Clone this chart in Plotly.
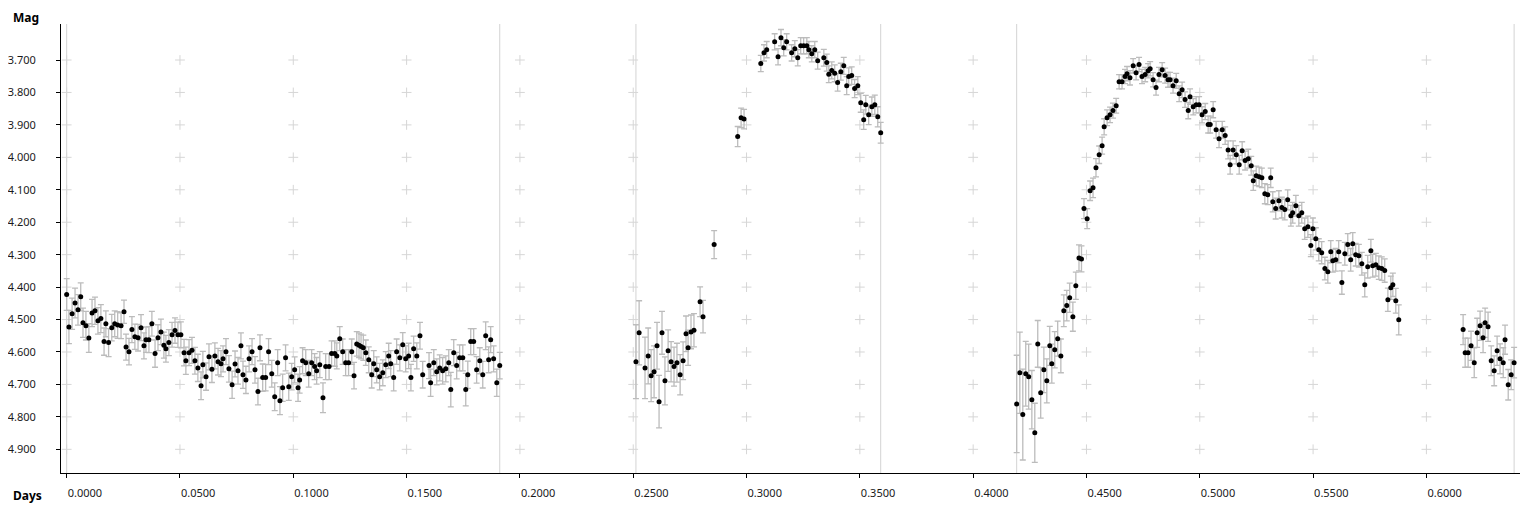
import plotly.graph_objects as go

# ---------------- data ----------------
# Session 1
s1_days = [0.0000, 0.0010, 0.0024, 0.0037, 0.0050, 0.0062, 0.0072, 0.0085, 0.0098, 0.0112,
           0.0125, 0.0138, 0.0151, 0.0165, 0.0173, 0.0185, 0.0199, 0.0212, 0.0225, 0.0240,
           0.0253, 0.0262, 0.0275, 0.0288, 0.0301, 0.0315, 0.0328, 0.0341, 0.0350, 0.0363,
           0.0376, 0.0390, 0.0403, 0.0416, 0.0429, 0.0438, 0.0451, 0.0465, 0.0478, 0.0491,
           0.0504, 0.0518, 0.0526, 0.0540, 0.0553, 0.0566, 0.0579, 0.0593, 0.0601, 0.0615,
           0.0628, 0.0641, 0.0654, 0.0668, 0.0681, 0.0690, 0.0703, 0.0716, 0.0730, 0.0743,
           0.0756, 0.0769, 0.0778, 0.0791, 0.0805, 0.0818, 0.0831, 0.0844, 0.0853, 0.0865,
           0.0878, 0.0891, 0.0905, 0.0918, 0.0931, 0.0941, 0.0953, 0.0966, 0.0980, 0.0993,
           0.1006, 0.1021, 0.1028, 0.1041, 0.1055, 0.1068, 0.1081, 0.1094, 0.1103, 0.1117,
           0.1131, 0.1143, 0.1158, 0.1169, 0.1183, 0.1192, 0.1205, 0.1218, 0.1231, 0.1244,
           0.1258, 0.1268, 0.1280, 0.1290, 0.1299, 0.1309, 0.1320, 0.1333, 0.1346, 0.1355,
           0.1368, 0.1381, 0.1395, 0.1408, 0.1421, 0.1430, 0.1443, 0.1456, 0.1470, 0.1483,
           0.1496, 0.1509, 0.1519, 0.1531, 0.1545, 0.1559, 0.1571, 0.1599, 0.1606, 0.1620,
           0.1633, 0.1646, 0.1659, 0.1673, 0.1686, 0.1695, 0.1708, 0.1721, 0.1734, 0.1748,
           0.1761, 0.1770, 0.1783, 0.1796, 0.1809, 0.1823, 0.1836, 0.1849, 0.1862, 0.1871,
           0.1884, 0.1898, 0.1911]
s1_mag = [4.423, 4.523, 4.482, 4.449, 4.470, 4.430, 4.510, 4.519, 4.557, 4.480,
          4.473, 4.504, 4.497, 4.568, 4.513, 4.571, 4.525, 4.513, 4.517, 4.519,
          4.476, 4.585, 4.599, 4.531, 4.553, 4.556, 4.525, 4.581, 4.562, 4.562,
          4.513, 4.605, 4.556, 4.538, 4.579, 4.590, 4.571, 4.547, 4.534, 4.547,
          4.547, 4.602, 4.627, 4.602, 4.595, 4.627, 4.649, 4.704, 4.639, 4.676,
          4.615, 4.653, 4.612, 4.630, 4.636, 4.621, 4.599, 4.652, 4.701, 4.637,
          4.658, 4.581, 4.670, 4.686, 4.621, 4.599, 4.655, 4.722, 4.587, 4.679,
          4.679, 4.599, 4.667, 4.738, 4.633, 4.750, 4.710, 4.618, 4.707, 4.676,
          4.655, 4.710, 4.686, 4.627, 4.633, 4.667, 4.633, 4.645, 4.658, 4.639,
          4.741, 4.645, 4.645, 4.605, 4.605, 4.612, 4.559, 4.599, 4.633, 4.633,
          4.599, 4.673, 4.575, 4.579, 4.583, 4.587, 4.602, 4.624, 4.670, 4.636,
          4.655, 4.676, 4.664, 4.639, 4.612, 4.636, 4.679, 4.599, 4.618, 4.578,
          4.621, 4.612, 4.679, 4.590, 4.612, 4.550, 4.670, 4.642, 4.695, 4.633,
          4.661, 4.649, 4.658, 4.652, 4.633, 4.716, 4.602, 4.642, 4.618, 4.618,
          4.716, 4.670, 4.568, 4.568, 4.655, 4.627, 4.670, 4.550, 4.624, 4.562,
          4.621, 4.695, 4.642]
s1_err = [0.049, 0.051, 0.048, 0.046, 0.047, 0.043, 0.045, 0.044, 0.044, 0.042,
          0.042, 0.041, 0.043, 0.042, 0.040, 0.043, 0.041, 0.040, 0.041, 0.040,
          0.036, 0.040, 0.041, 0.040, 0.039, 0.041, 0.040, 0.040, 0.039, 0.040,
          0.038, 0.042, 0.040, 0.039, 0.040, 0.041, 0.040, 0.038, 0.039, 0.039,
          0.040, 0.041, 0.042, 0.040, 0.040, 0.041, 0.042, 0.043, 0.041, 0.042,
          0.040, 0.041, 0.040, 0.041, 0.040, 0.040, 0.040, 0.041, 0.042, 0.040,
          0.041, 0.040, 0.042, 0.042, 0.040, 0.040, 0.041, 0.041, 0.040, 0.042,
          0.041, 0.040, 0.041, 0.043, 0.040, 0.043, 0.042, 0.040, 0.042, 0.041,
          0.040, 0.042, 0.041, 0.040, 0.040, 0.041, 0.040, 0.040, 0.041, 0.040,
          0.046, 0.040, 0.040, 0.039, 0.039, 0.040, 0.037, 0.039, 0.040, 0.040,
          0.039, 0.041, 0.038, 0.038, 0.038, 0.039, 0.039, 0.040, 0.041, 0.040,
          0.040, 0.041, 0.040, 0.040, 0.039, 0.040, 0.041, 0.039, 0.040, 0.038,
          0.040, 0.039, 0.041, 0.039, 0.040, 0.041, 0.041, 0.040, 0.042, 0.040,
          0.040, 0.040, 0.041, 0.040, 0.040, 0.053, 0.040, 0.041, 0.040, 0.040,
          0.050, 0.042, 0.040, 0.040, 0.041, 0.040, 0.041, 0.043, 0.040, 0.040,
          0.040, 0.042, 0.041]

# Session 2
s2_days = [0.2512, 0.2526, 0.2552, 0.2566, 0.2579, 0.2592, 0.2605, 0.2614, 0.2627, 0.2640,
           0.2654, 0.2667, 0.2680, 0.2693, 0.2707, 0.2720, 0.2733, 0.2742, 0.2755, 0.2768,
           0.2795, 0.2808, 0.2857, 0.2961, 0.2976, 0.2989, 0.3063, 0.3077, 0.3089, 0.3124,
           0.3139, 0.3152, 0.3164, 0.3177, 0.3199, 0.3213, 0.3226, 0.3239, 0.3252, 0.3266,
           0.3275, 0.3288, 0.3301, 0.3314, 0.3341, 0.3354, 0.3363, 0.3376, 0.3389, 0.3402,
           0.3416, 0.3429, 0.3442, 0.3451, 0.3464, 0.3477, 0.3491, 0.3504, 0.3517, 0.3526,
           0.3539, 0.3553, 0.3566, 0.3579, 0.3592]
s2_mag = [4.630, 4.541, 4.649, 4.612, 4.673, 4.661, 4.581, 4.753, 4.541, 4.689,
          4.596, 4.630, 4.645, 4.633, 4.670, 4.627, 4.544, 4.587, 4.538, 4.533,
          4.445, 4.491, 4.269, 3.936, 3.878, 3.882, 3.711, 3.678, 3.668, 3.644,
          3.690, 3.631, 3.662, 3.644, 3.678, 3.665, 3.693, 3.656, 3.656, 3.656,
          3.668, 3.681, 3.668, 3.702, 3.693, 3.708, 3.744, 3.732, 3.741, 3.769,
          3.736, 3.718, 3.779, 3.751, 3.748, 3.788, 3.779, 3.832, 3.884, 3.838,
          3.869, 3.844, 3.838, 3.875, 3.924]
s2_err = [0.114, 0.099, 0.095, 0.086, 0.080, 0.080, 0.072, 0.081, 0.066, 0.074,
          0.064, 0.062, 0.060, 0.060, 0.062, 0.058, 0.055, 0.054, 0.052, 0.051,
          0.046, 0.050, 0.043, 0.031, 0.030, 0.030, 0.025, 0.025, 0.025, 0.025,
          0.025, 0.025, 0.025, 0.025, 0.025, 0.025, 0.025, 0.025, 0.025, 0.025,
          0.025, 0.025, 0.025, 0.026, 0.026, 0.026, 0.026, 0.026, 0.026, 0.027,
          0.026, 0.026, 0.028, 0.027, 0.027, 0.028, 0.028, 0.029, 0.030, 0.029,
          0.030, 0.030, 0.030, 0.031, 0.032]

# Session 3
s3_days = [0.4192, 0.4206, 0.4219, 0.4232, 0.4245, 0.4259, 0.4272, 0.4285, 0.4298, 0.4312,
           0.4325, 0.4338, 0.4347, 0.4360, 0.4373, 0.4387, 0.4400, 0.4413, 0.4426, 0.4440,
           0.4453, 0.4467, 0.4478, 0.4489, 0.4503, 0.4516, 0.4529, 0.4542, 0.4556, 0.4569,
           0.4578, 0.4591, 0.4604, 0.4617, 0.4631, 0.4644, 0.4657, 0.4670, 0.4679, 0.4692,
           0.4706, 0.4719, 0.4732, 0.4745, 0.4759, 0.4772, 0.4781, 0.4794, 0.4807, 0.4820,
           0.4834, 0.4847, 0.4860, 0.4869, 0.4882, 0.4896, 0.4909, 0.4922, 0.4935, 0.4949,
           0.4957, 0.4971, 0.4984, 0.4997, 0.5010, 0.5024, 0.5037, 0.5046, 0.5059, 0.5072,
           0.5085, 0.5099, 0.5112, 0.5125, 0.5134, 0.5147, 0.5161, 0.5174, 0.5187, 0.5200,
           0.5214, 0.5227, 0.5236, 0.5249, 0.5262, 0.5274, 0.5287, 0.5300, 0.5313, 0.5322,
           0.5335, 0.5349, 0.5362, 0.5375, 0.5388, 0.5402, 0.5410, 0.5424, 0.5437, 0.5450,
           0.5463, 0.5477, 0.5490, 0.5499, 0.5512, 0.5525, 0.5538, 0.5552, 0.5565, 0.5578,
           0.5587, 0.5600, 0.5613, 0.5627, 0.5640, 0.5653, 0.5666, 0.5675, 0.5688, 0.5702,
           0.5715, 0.5728, 0.5741, 0.5755, 0.5763, 0.5777, 0.5790, 0.5803, 0.5816, 0.5830,
           0.5843, 0.5852, 0.5865, 0.5878]
s3_mag = [4.760, 4.664, 4.793, 4.667, 4.676, 4.747, 4.849, 4.575, 4.726, 4.655,
          4.689, 4.581, 4.636, 4.593, 4.559, 4.612, 4.473, 4.457, 4.433, 4.491,
          4.396, 4.310, 4.313, 4.158, 4.189, 4.103, 4.094, 4.032, 3.992, 3.964,
          3.906, 3.878, 3.869, 3.856, 3.841, 3.767, 3.767, 3.751, 3.742, 3.755,
          3.718, 3.739, 3.714, 3.751, 3.745, 3.733, 3.727, 3.761, 3.785, 3.745,
          3.730, 3.748, 3.761, 3.761, 3.779, 3.764, 3.804, 3.792, 3.822, 3.856,
          3.813, 3.844, 3.838, 3.838, 3.869, 3.859, 3.899, 3.899, 3.853, 3.915,
          3.943, 3.915, 3.933, 3.977, 4.023, 3.977, 3.992, 4.023, 3.980, 4.010,
          4.004, 4.026, 4.072, 4.057, 4.060, 4.063, 4.112, 4.115, 4.063, 4.137,
          4.158, 4.134, 4.155, 4.161, 4.131, 4.180, 4.171, 4.149, 4.180, 4.171,
          4.220, 4.214, 4.272, 4.220, 4.251, 4.285, 4.294, 4.343, 4.353, 4.291,
          4.319, 4.316, 4.291, 4.386, 4.297, 4.269, 4.316, 4.266, 4.300, 4.303,
          4.328, 4.393, 4.337, 4.288, 4.334, 4.331, 4.340, 4.343, 4.349, 4.439,
          4.402, 4.393, 4.442, 4.501]
s3_err = [0.150, 0.125, 0.140, 0.100, 0.100, 0.090, 0.091, 0.072, 0.078, 0.070,
          0.068, 0.060, 0.060, 0.056, 0.054, 0.052, 0.049, 0.047, 0.045, 0.045,
          0.042, 0.040, 0.040, 0.031, 0.031, 0.030, 0.030, 0.028, 0.027, 0.026,
          0.025, 0.024, 0.024, 0.023, 0.023, 0.022, 0.022, 0.022, 0.022, 0.022,
          0.022, 0.022, 0.022, 0.022, 0.022, 0.022, 0.022, 0.022, 0.023, 0.022,
          0.022, 0.023, 0.023, 0.023, 0.023, 0.023, 0.024, 0.024, 0.024, 0.025,
          0.024, 0.025, 0.025, 0.025, 0.025, 0.025, 0.026, 0.026, 0.025, 0.026,
          0.027, 0.026, 0.027, 0.028, 0.029, 0.028, 0.028, 0.029, 0.028, 0.029,
          0.029, 0.029, 0.030, 0.030, 0.030, 0.030, 0.031, 0.031, 0.030, 0.031,
          0.032, 0.031, 0.032, 0.032, 0.031, 0.032, 0.032, 0.032, 0.032, 0.032,
          0.033, 0.033, 0.034, 0.033, 0.034, 0.034, 0.034, 0.035, 0.035, 0.034,
          0.035, 0.035, 0.034, 0.036, 0.035, 0.034, 0.035, 0.034, 0.035, 0.035,
          0.035, 0.037, 0.035, 0.035, 0.035, 0.035, 0.036, 0.036, 0.036, 0.036,
          0.036, 0.036, 0.038, 0.046]

# Session 4
s4_days = [0.6162, 0.6171, 0.6184, 0.6197, 0.6211, 0.6224, 0.6237, 0.6250, 0.6259, 0.6272,
           0.6286, 0.6299, 0.6312, 0.6325, 0.6339, 0.6347, 0.6361, 0.6374, 0.6387]
s4_mag = [4.531, 4.602, 4.602, 4.581, 4.633, 4.541, 4.519, 4.556, 4.510, 4.522,
          4.627, 4.658, 4.596, 4.621, 4.633, 4.562, 4.701, 4.670, 4.633]
s4_err = [0.046, 0.045, 0.045, 0.045, 0.046, 0.045, 0.045, 0.046, 0.045, 0.045,
          0.046, 0.046, 0.045, 0.046, 0.046, 0.045, 0.047, 0.046, 0.047]

# Session boundary lines (days)
boundaries = [0.0000, 0.1911, 0.2512, 0.3592, 0.4192, 0.6387]

# Axis ticks
x_ticks = [0.00, 0.05, 0.10, 0.15, 0.20, 0.25, 0.30, 0.35, 0.40, 0.45, 0.50, 0.55, 0.60]
y_ticks = [3.7, 3.8, 3.9, 4.0, 4.1, 4.2, 4.3, 4.4, 4.5, 4.6, 4.7, 4.8, 4.9]

# ---------------- figure ----------------
days = s1_days + s2_days + s3_days + s4_days
mags = s1_mag + s2_mag + s3_mag + s4_mag
errs = s1_err + s2_err + s3_err + s4_err

FONT = "Noto Sans, Open Sans, sans-serif"
fig = go.Figure()

# grid crosses
gx = [x for x in x_ticks for _ in y_ticks]
gy = [y for _ in x_ticks for y in y_ticks]
fig.add_trace(go.Scatter(
    x=gx, y=gy, mode="markers", hoverinfo="skip", showlegend=False,
    marker=dict(symbol="cross-thin", size=7, color="#d6d6d6",
                line=dict(color="#d6d6d6", width=1))))

fig.add_trace(go.Scatter(
    x=days, y=mags, mode="markers", showlegend=False,
    marker=dict(symbol="circle", size=5, color="black"),
    error_y=dict(type="data", array=errs, symmetric=True,
                 color="#bcbcbc", thickness=1.3, width=3)))

for b in boundaries:
    fig.add_shape(type="line", xref="x", yref="paper", x0=b, x1=b, y0=0, y1=1,
                  line=dict(color="#d3d3d3", width=1), layer="below")

fig.add_annotation(text="<b>Mag</b>", xref="paper", yref="paper",
                   x=-0.0345, y=1.015, xanchor="left", yanchor="middle",
                   showarrow=False, font=dict(family=FONT, size=12, color="black"))
fig.add_annotation(text="<b>Days</b>", xref="paper", yref="paper",
                   x=-0.0345, y=-0.049, xanchor="left", yanchor="middle",
                   showarrow=False, font=dict(family=FONT, size=12, color="black"))

# page body has an 8px margin, so the figure is shifted and sized to fit the window
fig.update_layout(
    width=1528, height=504,
    margin=dict(l=53, r=16, t=16, b=39, autoexpand=False),
    paper_bgcolor="white", plot_bgcolor="white",
    font=dict(family=FONT, size=11, color="#1a1a1a"),
    xaxis=dict(range=[-0.0025, 0.6413], tickvals=x_ticks,
               ticktext=[f"{v:.4f}" for v in x_ticks], automargin=False,
               showgrid=False, zeroline=False, showline=True, linecolor="black",
               linewidth=1, ticks="outside", ticklen=4, tickcolor="black",
               ticklabelposition="outside right", ticklabelstandoff=10),
    yaxis=dict(range=[4.973, 3.589], tickvals=y_ticks,
               ticktext=[f"{v:.3f}" for v in y_ticks], automargin=False,
               showgrid=False, zeroline=False, showline=True, linecolor="black",
               linewidth=1, ticks="outside", ticklen=4, tickcolor="black",
               ticklabelstandoff=18),
)

fig.write_html("out.html")
